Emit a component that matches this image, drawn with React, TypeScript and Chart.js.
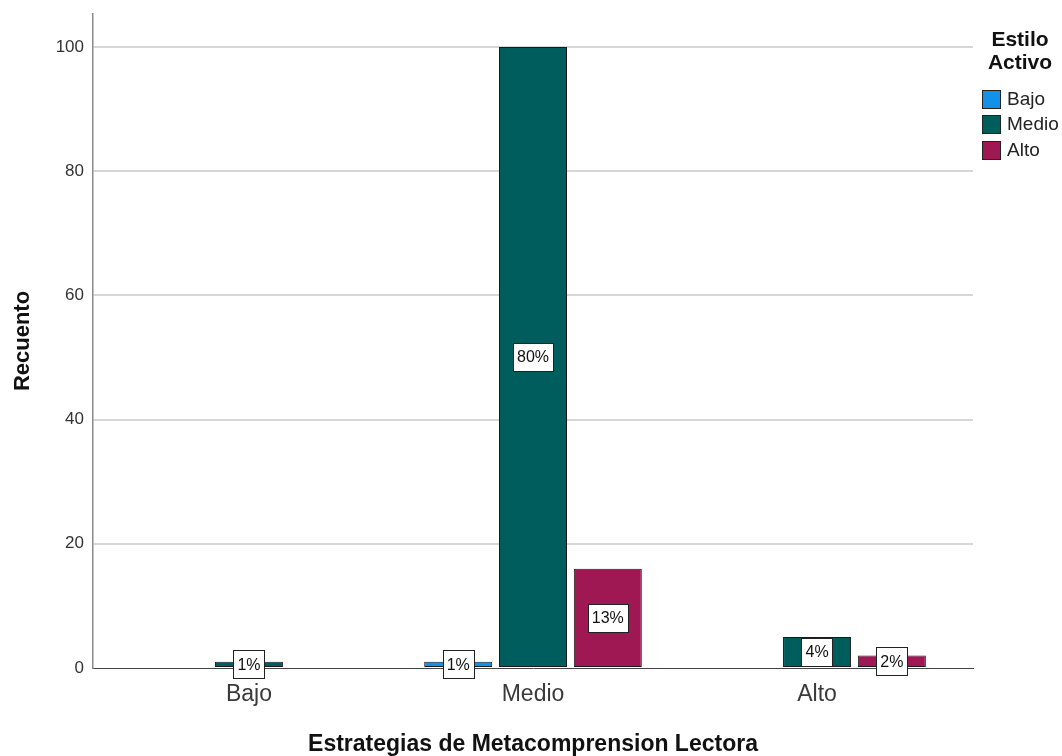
import React, { useEffect, useRef } from "react";
import { Chart, registerables } from "chart.js";

Chart.register(...registerables);

const categories = ["Bajo", "Medio", "Alto"];
const seriesNames = ["Bajo", "Medio", "Alto"];
const seriesColors = ["#1192e8", "#005d5d", "#9f1853"];
const valuesBajo: (number | null)[] = [null, 1, null];
const valuesMedio: (number | null)[] = [1, 100, 5];
const valuesAlto: (number | null)[] = [null, 16, 2];
const yTicks = [0, 20, 40, 60, 80, 100];
const xTitle = "Estrategias de Metacomprension Lectora";
const yTitle = "Recuento";
const legendTitle = ["Estilo", "Activo"];

const FONT = "'Liberation Sans', Arial, Helvetica, sans-serif";

const seriesValues = [valuesBajo, valuesMedio, valuesAlto];
const total = seriesValues.flat().reduce((s: number, v) => s + (v ?? 0), 0);

const labelPlugin = {
  id: "boxLabels",
  afterDatasetsDraw(chart: any) {
    const ctx = chart.ctx;
    ctx.save();
    ctx.font = `16px ${FONT}`;
    ctx.textAlign = "center";
    ctx.textBaseline = "middle";
    chart.data.datasets.forEach((ds: any, di: number) => {
      const meta = chart.getDatasetMeta(di);
      meta.data.forEach((el: any, i: number) => {
        const raw = ds.data[i];
        if (!raw || raw.y == null) return;
        const txt = Math.round((raw.y / total) * 100) + "%";
        const cx = el.x;
        const cy = (el.y + el.base) / 2;
        const w = ctx.measureText(txt).width + 8;
        const h = 28;
        const x0 = Math.round(cx - w / 2) + 0.5;
        const y0 = Math.round(cy - h / 2) + 0.5;
        ctx.fillStyle = "#ffffff";
        ctx.fillRect(x0, y0, Math.round(w), h);
        ctx.strokeStyle = "#222";
        ctx.lineWidth = 1;
        ctx.strokeRect(x0, y0, Math.round(w), h);
        ctx.fillStyle = "#111";
        ctx.fillText(txt, cx, cy + 1);
      });
    });
    ctx.restore();
  },
};

const legendPlugin = {
  id: "sideLegend",
  afterDraw(chart: any) {
    const ctx = chart.ctx;
    const left = chart.chartArea.right + 9;
    ctx.save();
    ctx.fillStyle = "#111";
    ctx.font = `bold 21px ${FONT}`;
    ctx.textAlign = "center";
    ctx.textBaseline = "middle";
    legendTitle.forEach((t, i) => ctx.fillText(t, left + 38, 40 + i * 23));
    ctx.font = `19px ${FONT}`;
    ctx.textAlign = "left";
    chart.data.datasets.forEach((ds: any, i: number) => {
      const cy = 98.5 + i * 25.5;
      ctx.fillStyle = ds.backgroundColor;
      ctx.fillRect(left + 0.5, Math.round(cy - 9) + 0.5, 18, 18);
      ctx.strokeStyle = "#222";
      ctx.lineWidth = 1;
      ctx.strokeRect(left + 0.5, Math.round(cy - 9) + 0.5, 18, 18);
      ctx.fillStyle = "#222";
      ctx.fillText(ds.label, left + 25, cy + 1);
    });
    ctx.restore();
  },
};

export default function App() {
  const ref = useRef<HTMLCanvasElement | null>(null);
  useEffect(() => {
    if (!ref.current) return;
    const datasets = seriesNames.map((name, si) => ({
      label: name,
      data: seriesValues[si].map((v, ci) => ({ x: ci, y: v })),
      backgroundColor: seriesColors[si],
      borderColor: "#1a1a1a",
      borderWidth: 1,
      borderSkipped: false,
      categoryPercentage: 0.79,
      barPercentage: 0.909,
    }));
    const chart = new Chart(ref.current, {
      type: "bar",
      data: { datasets } as any,
      plugins: [labelPlugin, legendPlugin],
      options: {
        animation: false,
        responsive: false,
        devicePixelRatio: 1,
        layout: { padding: { top: 14, right: 89, bottom: 0, left: 0 } },
        plugins: { legend: { display: false }, tooltip: { enabled: false } },
        scales: {
          x: {
            type: "linear",
            offset: false,
            min: -0.549,
            max: 2.549,
            afterBuildTicks: (s: any) => {
              s.ticks = categories.map((_, i) => ({ value: i }));
            },
            afterFit: (s: any) => {
              s.height = 88;
              s.paddingLeft = 0;
              s.paddingRight = 0;
            },
            grid: { display: false, drawTicks: false, offset: false },
            border: { display: true, color: "#444", width: 1 },
            ticks: {
              padding: 13,
              color: "#3a3a3a",
              font: { family: FONT, size: 23 },
              callback: (v: any) => categories[v] ?? "",
              maxRotation: 0,
              autoSkip: false,
            },
            title: {
              display: true,
              text: xTitle,
              color: "#111",
              font: { family: FONT, size: 23, weight: "bold" },
              padding: { top: 0, bottom: -2 },
            },
          },
          y: {
            min: 0,
            max: 105.3,
            afterBuildTicks: (s: any) => {
              s.ticks = yTicks.map((v) => ({ value: v }));
            },
            afterFit: (s: any) => {
              s.width = 93;
              s.paddingTop = 0;
              s.paddingBottom = 0;
            },
            grid: {
              drawTicks: false,
              lineWidth: 2,
              color: (c: any) => (c.tick && c.tick.value === 0 ? "rgba(0,0,0,0)" : "#d6d6d6"),
            },
            border: { display: true, color: "#8a8a8a", width: 1.5 },
            ticks: {
              padding: 9,
              color: "#333",
              font: { family: FONT, size: 17 },
            },
            title: {
              display: true,
              text: yTitle,
              color: "#111",
              font: { family: FONT, size: 22, weight: "bold" },
              padding: { top: 10, bottom: 0 },
            },
          },
        },
      } as any,
    });
    return () => chart.destroy();
  }, []);
  return (
    <div style={{ position: "fixed", left: 0, top: 0, width: 1062, height: 756, background: "#fff" }}>
      <canvas ref={ref} width={1062} height={756} style={{ width: 1062, height: 756 }} />
    </div>
  );
}
